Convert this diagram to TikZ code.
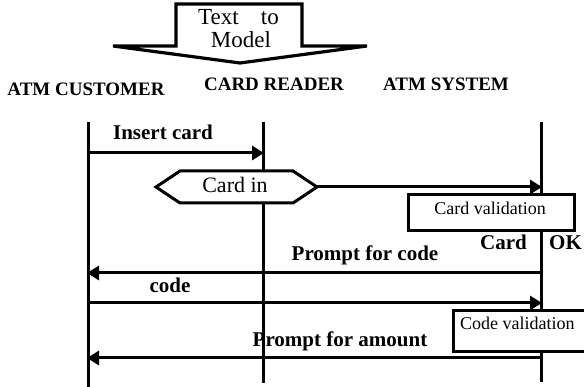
\documentclass[tikz,border=0pt]{standalone}
\usepackage{fontspec}
\setmainfont{Liberation Serif}
\usetikzlibrary{arrows.meta}
\begin{document}
\begin{tikzpicture}[x=1pt,y=-1pt,
  lifeline/.style={line width=3pt},
  msg/.style={line width=3pt,-{Triangle[length=12pt,width=14pt]}},
  hdr/.style={font=\fontsize{19}{22}\selectfont\bfseries,inner sep=0pt,anchor=base},
  lbl/.style={font=\fontsize{21}{24}\selectfont\bfseries,inner sep=0pt,anchor=base},
  boxtxt/.style={font=\fontsize{18}{21}\selectfont,inner sep=0pt,anchor=base},
  procbox/.style={draw,line width=3pt,fill=white},
]
\useasboundingbox (0,0) rectangle (584,387);
% block arrow "Text to Model"
\draw[line width=3.2pt,fill=white,line join=miter]
  (176,4) -- (302,4) -- (302,46) -- (367,46) -- (240,63) -- (113,46) -- (176,46) -- cycle;
\node[font=\fontsize{23}{25}\selectfont,inner sep=0pt,anchor=base west] (t1) at (198,25) {Text};
\node[font=\fontsize{23}{25}\selectfont,inner sep=0pt,anchor=base east] (t2) at (279,25) {to};
\node[font=\fontsize{23}{25}\selectfont,inner sep=0pt,anchor=base] (t3) at (241,48) {Model};
% headers
\node[hdr] (hc) at (86,96) {ATM CUSTOMER};
\node[hdr] (hr) at (274,91) {CARD READER};
\node[hdr] (hs) at (446,91) {ATM SYSTEM};
% lifeline coordinates
\coordinate (ct) at (88,122);  \coordinate (cb) at (88,387);
\coordinate (rt) at (263,122); \coordinate (rb) at (263,383);
\coordinate (st) at (541,122); \coordinate (sb) at (541,382);
\draw[lifeline] (ct) -- (cb);
\draw[lifeline] (rt) -- (rb);
\draw[lifeline] (st) -- (sb);
% Insert card
\coordinate (c1) at (88,153); \coordinate (r1) at (264,153);
\draw[msg] (c1) -- (r1);
\node[lbl] (l1) at (163,140) {Insert card};
% Card in hexagon
\draw[line width=3pt,fill=white,line join=miter]
  (156,187) -- (180,171) -- (293,171) -- (317,187) -- (293,203) -- (180,203) -- cycle;
\coordinate (hx) at (317,187);
\node[font=\fontsize{22}{24}\selectfont,inner sep=0pt,anchor=base] (cin) at (235,193) {Card in};
\coordinate (s1) at (542,187);
\draw[msg] (hx) -- (s1);
% Card validation box
\draw[procbox] (408,195) rectangle (574,231);
\node[boxtxt] (cv) at (490,215) {Card validation};
\node[lbl,anchor=base west] (lc) at (480,250) {Card};
\node[lbl,anchor=base west] (lok) at (549,250) {OK};
% Prompt for code
\coordinate (s2) at (541,273); \coordinate (c2) at (87,273);
\draw[msg] (s2) -- (c2);
\node[lbl] (l2) at (365,261) {Prompt for code};
% code
\coordinate (c3) at (88,303); \coordinate (s3) at (542,303);
\draw[msg] (c3) -- (s3);
\node[lbl] (l3) at (170,293) {code};
% Code validation box
\draw[procbox] (453,311) rectangle (588,352);
\node[boxtxt,anchor=base west] (cdv) at (460,330) {Code validation};
% Prompt for amount
\coordinate (s4) at (541,358); \coordinate (c4) at (87,358);
\draw[msg] (s4) -- (c4);
\node[lbl] (l4) at (340,347) {Prompt for amount};
\end{tikzpicture}
\end{document}
